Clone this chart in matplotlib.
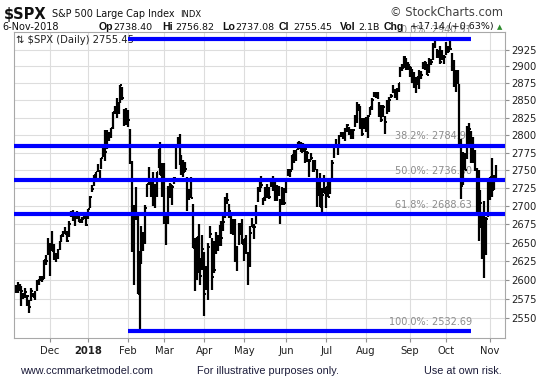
import numpy as np
import pandas as pd
import matplotlib
matplotlib.use('Agg')
import matplotlib.pyplot as plt
from matplotlib.ticker import NullLocator

plt.rcParams['font.family'] = ['DejaVu Sans']

# Trading days shown: 6-Nov-2017 .. 6-Nov-2018
holidays = ['2017-11-23', '2017-12-25', '2018-01-01', '2018-01-15', '2018-02-19',
            '2018-03-30', '2018-05-28', '2018-07-04', '2018-09-03']
days = pd.bdate_range('2017-11-06', '2018-11-06')
days = days[~days.isin(pd.to_datetime(holidays))]

# Daily bars ($SPX), one row per month
highs = [
    2594, 2597, 2595, 2592, 2583, 2590, 2580, 2574, 2590, 2583, 2585, 2600, 2601, 2605, 2606, 2627, 2634, 2657,
    2650, 2666, 2648, 2636, 2641, 2652, 2660, 2666, 2671, 2666, 2680, 2694, 2695, 2692, 2693, 2686, 2682, 2685, 2688, 2692,
    2696, 2714, 2729, 2743, 2748, 2759, 2751, 2767, 2787, 2807, 2807, 2805, 2810, 2833, 2842, 2853, 2848, 2873, 2870, 2838, 2839,
    2836, 2809, 2763, 2701, 2727, 2686, 2639, 2673, 2664, 2702, 2731, 2755, 2738, 2747, 2731, 2747, 2780, 2790, 2761,
    2761, 2692, 2728, 2732, 2730, 2741, 2786, 2797, 2801, 2772, 2764, 2762, 2741, 2724, 2740, 2703, 2657, 2658, 2675, 2630, 2660,
    2638, 2619, 2649, 2673, 2656, 2653, 2665, 2661, 2674, 2680, 2686, 2713, 2718, 2703, 2692, 2683, 2683, 2645, 2677, 2677, 2682,
    2655, 2661, 2637, 2673, 2684, 2676, 2701, 2726, 2733, 2742, 2711, 2726, 2731, 2726, 2739, 2742, 2733, 2730, 2728, 2710, 2726, 2725,
    2736, 2752, 2752, 2772, 2779, 2779, 2790, 2791, 2790, 2789, 2782, 2777, 2766, 2775, 2764, 2765, 2752, 2733, 2746, 2725, 2743,
    2727, 2736, 2737, 2764, 2784, 2795, 2785, 2800, 2805, 2804, 2810, 2816, 2812, 2809, 2808, 2829, 2848, 2845, 2842, 2824, 2824,
    2826, 2829, 2841, 2853, 2863, 2862, 2862, 2848, 2843, 2843, 2827, 2850, 2855, 2860, 2873, 2866, 2868, 2876, 2899, 2904, 2916, 2912, 2906,
    2900, 2896, 2892, 2884, 2886, 2894, 2893, 2906, 2908, 2904, 2912, 2911, 2935, 2941, 2926, 2924, 2931, 2925, 2917,
    2937, 2931, 2940, 2920, 2909, 2894, 2894, 2874, 2795, 2776, 2775, 2813, 2817, 2806, 2797, 2778, 2753, 2750, 2723, 2692, 2707, 2685, 2737,
    2741, 2767, 2744, 2757,
]
lows = [
    2583, 2583, 2585, 2566, 2575, 2576, 2566, 2557, 2572, 2577, 2574, 2586, 2593, 2599, 2598, 2602, 2620, 2633,
    2605, 2639, 2627, 2624, 2628, 2640, 2651, 2658, 2662, 2651, 2658, 2685, 2680, 2673, 2682, 2678, 2677, 2677, 2682, 2673,
    2683, 2697, 2719, 2728, 2737, 2747, 2736, 2752, 2769, 2763, 2780, 2792, 2796, 2809, 2830, 2824, 2830, 2846, 2851, 2813, 2814,
    2811, 2759, 2638, 2593, 2681, 2581, 2533, 2622, 2639, 2648, 2713, 2729, 2713, 2700, 2697, 2713, 2753, 2744, 2713,
    2675, 2647, 2675, 2711, 2701, 2731, 2752, 2781, 2758, 2743, 2741, 2747, 2694, 2709, 2711, 2643, 2586, 2600, 2610, 2594, 2614,
    2553, 2587, 2573, 2657, 2587, 2610, 2635, 2639, 2646, 2645, 2666, 2684, 2703, 2684, 2662, 2661, 2624, 2612, 2647, 2660, 2648,
    2625, 2635, 2594, 2617, 2671, 2655, 2675, 2706, 2719, 2725, 2702, 2707, 2711, 2710, 2726, 2721, 2707, 2707, 2714, 2676, 2702, 2701,
    2718, 2742, 2740, 2750, 2761, 2763, 2779, 2780, 2776, 2776, 2761, 2762, 2740, 2765, 2748, 2750, 2699, 2714, 2699, 2692, 2718,
    2698, 2713, 2717, 2733, 2768, 2786, 2771, 2783, 2797, 2795, 2792, 2805, 2800, 2795, 2795, 2811, 2817, 2835, 2808, 2798, 2808,
    2805, 2796, 2829, 2836, 2855, 2854, 2852, 2826, 2819, 2826, 2802, 2831, 2833, 2854, 2861, 2853, 2851, 2862, 2884, 2893, 2898, 2895, 2895,
    2885, 2876, 2868, 2861, 2873, 2866, 2882, 2896, 2895, 2887, 2891, 2902, 2910, 2927, 2913, 2913, 2904, 2910, 2903,
    2917, 2920, 2924, 2893, 2869, 2863, 2874, 2785, 2710, 2729, 2750, 2766, 2784, 2760, 2760, 2749, 2692, 2652, 2670, 2628, 2603, 2634, 2685,
    2709, 2713, 2723, 2737,
]
closes = [
    2591, 2590, 2594, 2585, 2582, 2584, 2579, 2565, 2585, 2578, 2582, 2599, 2597, 2602, 2601, 2627, 2626, 2648,
    2642, 2639, 2630, 2629, 2637, 2652, 2660, 2664, 2662, 2652, 2676, 2690, 2681, 2679, 2684, 2683, 2680, 2682, 2688, 2674,
    2696, 2713, 2724, 2743, 2748, 2751, 2748, 2767, 2786, 2776, 2803, 2798, 2810, 2833, 2839, 2837, 2839, 2873, 2853, 2822, 2824,
    2822, 2762, 2649, 2695, 2682, 2581, 2620, 2656, 2662, 2698, 2731, 2732, 2716, 2701, 2703, 2747, 2780, 2744, 2714,
    2678, 2691, 2720, 2729, 2727, 2739, 2786, 2783, 2766, 2750, 2748, 2752, 2712, 2716, 2711, 2643, 2588, 2658, 2613, 2605, 2641,
    2582, 2614, 2644, 2662, 2604, 2613, 2656, 2642, 2664, 2656, 2678, 2706, 2708, 2693, 2670, 2670, 2635, 2639, 2666, 2670, 2648,
    2655, 2636, 2630, 2663, 2672, 2672, 2697, 2723, 2728, 2730, 2711, 2722, 2720, 2713, 2733, 2725, 2733, 2728, 2721, 2690, 2724, 2705,
    2735, 2747, 2749, 2772, 2770, 2779, 2782, 2786, 2776, 2783, 2780, 2774, 2763, 2767, 2749, 2755, 2717, 2723, 2699, 2716, 2718,
    2727, 2713, 2736, 2760, 2784, 2793, 2775, 2798, 2801, 2798, 2809, 2815, 2804, 2802, 2807, 2821, 2846, 2837, 2819, 2802, 2816,
    2813, 2827, 2840, 2850, 2858, 2857, 2853, 2833, 2822, 2840, 2819, 2840, 2850, 2857, 2862, 2861, 2857, 2875, 2897, 2898, 2914, 2901, 2902,
    2897, 2888, 2878, 2872, 2877, 2887, 2888, 2904, 2905, 2888, 2904, 2907, 2930, 2930, 2920, 2916, 2906, 2915, 2914,
    2924, 2923, 2926, 2902, 2886, 2884, 2881, 2786, 2728, 2767, 2751, 2810, 2809, 2769, 2768, 2756, 2741, 2656, 2705, 2659, 2641, 2682, 2712,
    2740, 2723, 2738, 2755,
]

# Fibonacci retracement (Feb low -> Sep high)
fib_pct = ['0.0%', '38.2%', '50.0%', '61.8%', '100.0%']
fib_val = [2940.91, 2784.97, 2736.80, 2688.63, 2532.69]
fib_start, fib_end = '2018-02-01', '2018-10-18'

month_labels = ['Dec', '2018', 'Feb', 'Mar', 'Apr', 'May', 'Jun', 'Jul', 'Aug', 'Sep', 'Oct', 'Nov']
yticks = list(range(2550, 2926, 25))

x = np.arange(len(days))
month_idx = [i for i in range(1, len(days)) if days[i].month != days[i - 1].month]
i0 = days.get_indexer([pd.Timestamp(fib_start)])[0]
i1 = days.get_indexer([pd.Timestamp(fib_end)])[0]

W, H = 539, 386
fig = plt.figure(figsize=(W / 100, H / 100), dpi=100)
ax = fig.add_axes([14 / W, 1 - 337.5 / H, (505 - 14) / W, (337.5 - 32) / H])

ax.vlines(x, lows, highs, color='black', lw=1.6, zorder=3)
ax.hlines(closes, x, x + 0.9, color='black', lw=1.4, zorder=3)

for p, v in zip(fib_pct, fib_val):
    if p in ('0.0%', '100.0%'):
        ax.hlines(v, i0, i1, color='#0000ff', lw=3, zorder=4)
    else:
        ax.axhline(v, color='#0000ff', lw=3, zorder=4)
    ax.annotate(f'{p}: {v:.2f}', xy=(i1 + 0.5, v), xytext=(0, 3), textcoords='offset points',
                ha='right', va='bottom', color='#8c8c8c', fontsize=7, zorder=2,
                annotation_clip=False)

ax.set_yscale('log')
ax.set_xlim(-0.9, 256.9)
ax.set_ylim(2524.7, 2951.5)
ax.yaxis.set_minor_locator(NullLocator())
ax.set_yticks(yticks)
ax.set_yticklabels([str(t) for t in yticks])
ax.yaxis.tick_right()
ax.set_xticks(month_idx)
ax.set_xticklabels(month_labels)
for lab in ax.get_xticklabels():
    if lab.get_text() == '2018':
        lab.set_fontweight('bold')
ax.tick_params(axis='both', length=3, width=0.8, color='#909090', labelsize=7.2,
               labelcolor='#202020', pad=1.5)
ax.tick_params(axis='x', pad=3)
ax.grid(True, color='#dddddd', lw=0.8)
ax.set_axisbelow(True)
for s in ax.spines.values():
    s.set_color('#a8a8a8')

ax.text(2 / 491, 1 - 8 / 305.5, '\u21c5 $SPX (Daily) 2755.45', transform=ax.transAxes,
        fontsize=7.2, va='center', ha='left', color='#202020', zorder=2)


# header
def ft(px, py, s, **kw):
    kw.setdefault('color', '#101010')
    kw.setdefault('ha', 'left')
    fig.text(px / W, 1 - py / H, s, va='center', **kw)


ft(4, 14, '$SPX', fontsize=10.5, fontweight='bold')
ft(52, 14, 'S&P 500 Large Cap Index', fontsize=6.9)
ft(180, 14.5, 'INDX', fontsize=6)
ft(503, 13, '\u00a9 StockCharts.com', fontsize=8.3, color='#404040', ha='right')
ft(2, 27, '6-Nov-2018', fontsize=7)
row2 = [(99, 'Op', True), (113, '2738.40', False), (162, 'Hi', True), (175, '2756.82', False),
        (222, 'Lo', True), (235, '2737.08', False), (279, 'Cl', True), (293, '2755.45', False),
        (340, 'Vol', True), (358, '2.1B', False), (384, 'Chg', True), (410, '+17.14 (+0.63%)', False)]
for px, s, b in row2:
    if b:
        ft(px, 27, s, fontsize=7.6, fontweight='bold', family=['Liberation Sans'])
    else:
        ft(px, 27, s, fontsize=6.8)
ft(497, 27, '\u25b2', fontsize=5, color='#2e8b2e')

# footer
for px, s in [(20, 'www.ccmmarketmodel.com'), (197, 'For illustrative purposes only.'),
              (424, 'Use at own risk.')]:
    ft(px, 371, s, fontsize=7.8, family=['Liberation Sans'], color='#1c1c3a')

fig.savefig('out.png', dpi=100, facecolor='white')
